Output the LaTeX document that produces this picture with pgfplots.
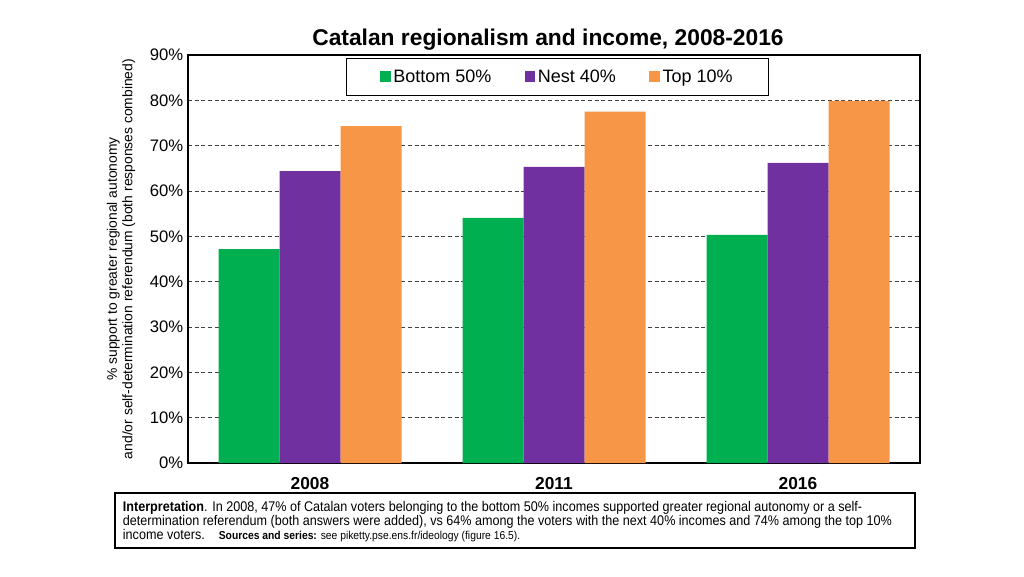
\documentclass[border=0pt]{standalone}
\usepackage{fontspec}
\setmainfont{Liberation Sans}
\newfontfamily\narrowfont[FakeStretch=0.9]{Liberation Sans}
\usepackage{pgfplots}
\pgfplotsset{compat=1.18}
\definecolor{cgreen}{HTML}{00B050}
\definecolor{cpurple}{HTML}{7030A0}
\definecolor{corange}{HTML}{F79646}
\begin{document}
\begin{tikzpicture}
\path[use as bounding box] (0,0) rectangle (768pt,432pt);
\begin{axis}[
  at={(141pt,84.75pt)}, anchor=south west,
  scale only axis, width=549pt, height=306pt,
  ybar=0pt, bar width=0.25,
  xmin=-0.5, xmax=2.5, ymin=0, ymax=90,
  xtick=data, xticklabels={2008,2011,2016},
  xticklabel style={font=\fontsize{13}{15}\selectfont\bfseries, yshift=-3pt},
  major x tick style={draw=none},
  ytick={0,10,...,90},
  yticklabel={\pgfmathprintnumber{\tick}\%},
  /pgf/number format/assume math mode=true,
  yticklabel style={font=\fontsize{12.5}{14}\selectfont},
  major y tick style={draw=none},
  ymajorgrids, grid style={densely dashed, black!75, line width=0.5pt},
  axis line style={line width=1.5pt},
  ylabel={\% support to greater regional autonomy\\and/or self-determination referendum (both responses combined)},
  ylabel style={at={(axis description cs:-0.0915,0.5)}, anchor=center, align=center, font=\fontsize{10.4}{11.5}\selectfont},
  legend columns=3,
  legend style={at={(0.505,0.993)}, anchor=north, draw=black, line width=0.6pt,
    font=\fontsize{13.5}{15}\selectfont, inner xsep=25pt, inner ysep=6.5pt,
    /tikz/every even column/.append style={column sep=23pt}},
  legend image code/.code={\fill[#1] (0pt,-4pt) rectangle (8pt,4.5pt);},
]
\addplot[fill=cgreen, draw=none] coordinates {(0,47.2) (1,54.1) (2,50.3)};
\addplot[fill=cpurple, draw=none] coordinates {(0,64.4) (1,65.3) (2,66.2)};
\addplot[fill=corange, draw=none] coordinates {(0,74.3) (1,77.5) (2,79.9)};
\legend{Bottom 50\%, Nest 40\%, Top 10\%}
\end{axis}
\node[font=\fontsize{17.1}{20}\selectfont\bfseries] at (411pt,402pt) {Catalan regionalism and income, 2008-2016};
\draw[line width=1pt] (86.25pt,62.25pt) rectangle (686.25pt,21pt);
\node[anchor=north west, align=left, inner sep=0pt, font=\narrowfont\fontsize{10.5}{10.5}\selectfont] at (92pt,56pt)
{\textbf{Interpretation}. In 2008, 47\% of Catalan voters belonging to the bottom 50\% incomes supported greater regional autonomy or a self-\\
determination referendum (both answers were added), vs 64\% among the voters with the next 40\% incomes and 74\% among the top 10\%\\
income voters.\quad {\fontsize{8.6}{10.5}\selectfont\textbf{Sources and series:} see piketty.pse.ens.fr/ideology (figure 16.5).}};
\end{tikzpicture}
\end{document}
